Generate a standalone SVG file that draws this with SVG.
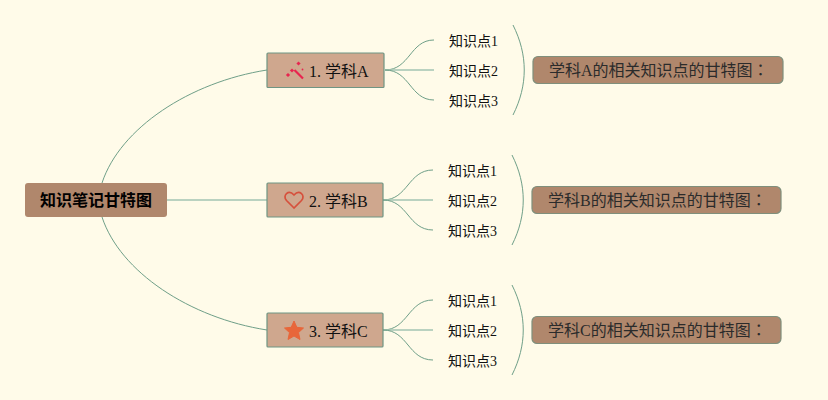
<svg xmlns="http://www.w3.org/2000/svg" width="828" height="400" viewBox="0 0 828 400">
<style>
text{font-family:"Liberation Serif","Noto Sans CJK TC",serif;fill:#111}
.root{fill:#b0876c}
.topic{fill:#cfa78e;stroke:#6f9583;stroke-width:1.200}
.sum{fill:#b0876c;stroke:#7f8f7c;stroke-width:1.200}
.c{fill:none;stroke:#6f9f88;stroke-width:1}
.t{stroke-width:1.600;stroke:#a3c4b2}
.leaf{font-size:14px}
.tt{font-size:16px}
.st{font-size:16px;fill:#2b2b2b}
</style>
<rect width="828" height="400" fill="#fffbe9"/>
<g id="connectors">
<path class="c" d="M102 183C120 128 190 82 267 70"/>
<path class="c t" d="M167 200H267"/>
<path class="c" d="M102 217C120 272 190 318 267 330"/>
<path class="c" d="M385 70C410 70 410 40 434 40"/><path class="c t" d="M385 70H434"/><path class="c" d="M385 70C410 70 410 100 434 100"/>
<path class="c" d="M383 200C408 200 408 170 433 170"/><path class="c t" d="M383 200H433"/><path class="c" d="M383 200C408 200 408 230 433 230"/>
<path class="c" d="M383 330C408 330 408 300 433 300"/><path class="c t" d="M383 330H433"/><path class="c" d="M383 330C408 330 408 360 433 360"/>
<path class="c" d="M513 25C528 55 528 85 513 115"/>
<path class="c" d="M512 155C527 185 527 215 512 245"/>
<path class="c" d="M512 285C527 315 527 345 512 375"/>
</g>
<g id="root"><rect class="root" x="25" y="183" width="142" height="34" rx="3"/><text x="96" y="206" text-anchor="middle" font-size="16" font-weight="700" style="fill:#000">知识笔记甘特图</text></g>
<g id="topicA"><rect class="topic" x="267" y="53" width="117" height="34.500" rx="1"/>
<g fill="#e8254f"><path d="M294.500 70L303 78.500" stroke="#e8254f" stroke-width="2.200" fill="none"/><rect x="286.500" y="73.500" width="3" height="3" transform="rotate(45 288 75)"/><rect x="290.500" y="69" width="3" height="3" transform="rotate(45 292 70.500)"/><rect x="297" y="62" width="3" height="3" transform="rotate(45 298.500 63.500)"/><circle cx="302.500" cy="69.500" r="0.900"/></g>
<text class="tt" x="309" y="77">1. 学科A</text></g>
<g id="topicB"><rect class="topic" x="267" y="183" width="116" height="34" rx="1"/>
<path d="M294 208L286.500 200.500C282 195.500 288.500 189 294 195C299.500 189 306 195.500 301.500 200.500Z" fill="none" stroke="#d6503c" stroke-width="1.700"/>
<text class="tt" x="309" y="207">2. 学科B</text></g>
<g id="topicC"><rect class="topic" x="267" y="313" width="116" height="34" rx="1"/>
<path d="M294 321L296.800 327.300L303.500 328L298.500 332.600L300 339.500L294 336L288 339.500L289.500 332.600L284.500 328L291.200 327.300Z" fill="#e8663a" stroke="#e8663a" stroke-linejoin="round"/>
<text class="tt" x="309" y="337">3. 学科C</text></g>
<g id="leavesA"><text class="leaf" x="449" y="46">知识点1</text><text class="leaf" x="449" y="76">知识点2</text><text class="leaf" x="449" y="106">知识点3</text></g>
<g id="leavesB"><text class="leaf" x="448" y="176">知识点1</text><text class="leaf" x="448" y="206">知识点2</text><text class="leaf" x="448" y="236">知识点3</text></g>
<g id="leavesC"><text class="leaf" x="448" y="306">知识点1</text><text class="leaf" x="448" y="336">知识点2</text><text class="leaf" x="448" y="366">知识点3</text></g>
<g id="summaryA"><rect class="sum" x="533" y="56.500" width="250" height="27" rx="5"/><text class="st" x="549" y="76">学科A的相关知识点的甘特图：</text></g>
<g id="summaryB"><rect class="sum" x="532" y="186.500" width="249" height="27" rx="5"/><text class="st" x="548" y="206">学科B的相关知识点的甘特图：</text></g>
<g id="summaryC"><rect class="sum" x="532" y="316.500" width="249" height="27" rx="5"/><text class="st" x="548" y="336">学科C的相关知识点的甘特图：</text></g>
</svg>
